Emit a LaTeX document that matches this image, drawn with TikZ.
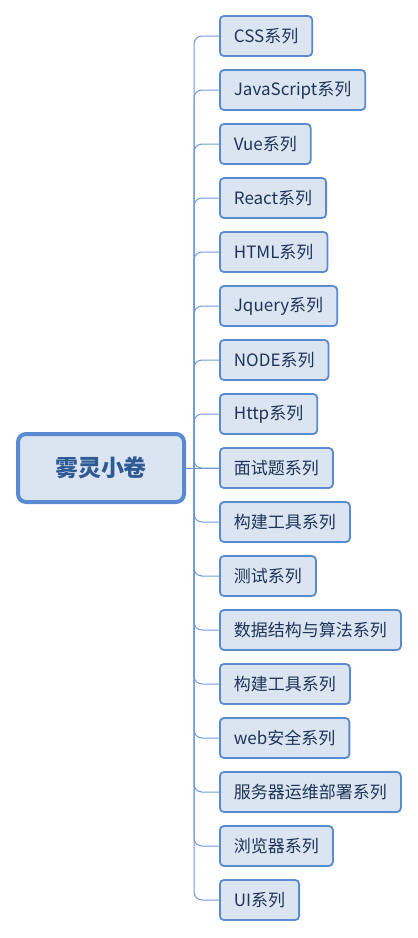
\documentclass[tikz,border=0pt]{standalone}
\usepackage{fontspec}
\setmainfont{Noto Sans CJK SC}
\usepackage{xcolor}
\usetikzlibrary{calc,positioning}
\definecolor{boxline}{HTML}{5A8AD0}
\definecolor{boxfill}{HTML}{DBE5F1}
\definecolor{boxtext}{HTML}{1F3458}
\definecolor{roottext}{HTML}{2F5A94}
\definecolor{branchline}{HTML}{6E9AD3}
\tikzset{
 topic/.style={draw=boxline, fill=boxfill, line width=1.8pt, rounded corners=4pt,
  minimum height=40pt, inner xsep=14pt, anchor=west, text=boxtext,
  font=\fontsize{17}{19}\selectfont},
 roottopic/.style={draw=boxline, fill=boxfill, line width=4pt, rounded corners=8pt,
  minimum width=166pt, minimum height=68pt, text=roottext,
  font=\fontsize{23}{26}\selectfont\bfseries},
 branch/.style={draw=branchline, line width=1pt, rounded corners=8pt},
}
\begin{document}
\begin{tikzpicture}[x=1pt, y=-1pt]
\useasboundingbox (0,0) rectangle (418,938);
\node[roottopic] (root) at (101,468) {雾灵小卷};
\coordinate (hub) at (194,468);
\foreach \t [count=\i] in {CSS系列, JavaScript系列, Vue系列, React系列, HTML系列,
 Jquery系列, NODE系列, Http系列, 面试题系列, 构建工具系列, 测试系列,
 数据结构与算法系列, 构建工具系列, web安全系列, 服务器运维部署系列, 浏览器系列, UI系列} {
 \node[topic] (c\i) at (219,{36+54*(\i-1)}) {\t};
 \draw[branch] (hub) |- (c\i.west);
}
\draw[branch] (root.east) -- (c9.west);
\end{tikzpicture}
\end{document}
